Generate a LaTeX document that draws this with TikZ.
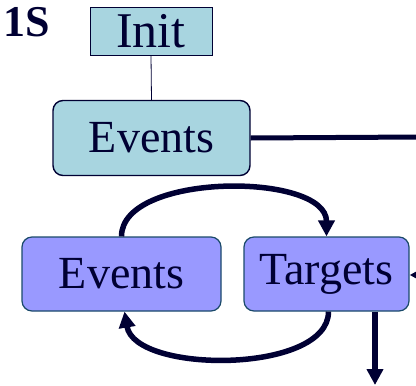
\documentclass[tikz,border=0pt]{standalone}
\usepackage{fontspec}
\setmainfont{Liberation Serif}
\usetikzlibrary{arrows.meta,positioning}
\definecolor{navy}{HTML}{000033}
\definecolor{lightbox}{HTML}{A8D5E0}
\definecolor{violetbox}{HTML}{9999FF}
\definecolor{edgeteal}{HTML}{1A4A6A}
\begin{document}
\begin{tikzpicture}[x=1pt,y=1pt,
    topbox/.style={draw=navy,fill=lightbox,text=navy,inner sep=0pt},
    loopbox/.style={draw=edgeteal,fill=violetbox,text=navy,line width=1.2pt,rounded corners=10pt,inner sep=0pt,minimum height=74pt},
    flow/.style={navy,line width=5.5pt,-{Triangle[length=16pt,width=16pt]}}]
                \useasboundingbox (0,0) rectangle (416,-386);
                \node[anchor=base west,text=navy,inner sep=0pt,font=\fontsize{44}{44}\selectfont\bfseries] (label) at (3,-36) {1S};
                \node[topbox,line width=0.8pt,minimum width=122pt,minimum height=48pt,font=\fontsize{50}{50}\selectfont] (init) at (151,-31) {Init};
                \node[topbox,line width=1.4pt,rounded corners=10pt,minimum width=197pt,minimum height=75pt,font=\fontsize{46}{46}\selectfont] (events) at (151.5,-138) {Events};
                \node[loopbox,minimum width=199pt,font=\fontsize{46}{46}\selectfont] (evloop) at (121.5,-274) {Events};
                \node[loopbox,minimum width=165pt,font=\fontsize{46}{46}\selectfont] (targets) at (326.5,-274) {Targets};
                \coordinate (right) at (420,-137);
                \coordinate (inright) at (430,-275);
                \coordinate (down) at (375,-385);
                \draw[navy,line width=0.8pt] (init.south) -- (events.north);
                \draw[navy,line width=5pt] (events.east) -- (right);
                \draw[flow] (inright) -- (targets.east|-inright);
                \draw[flow] (evloop.north) .. controls (121.5,-172) and (326.5,-172) .. (targets.north);
                \draw[flow] ([xshift=2pt]targets.south) .. controls (328.5,-374) and (135,-374) .. ([xshift=3pt]evloop.south);
                \draw[flow] (targets.south-|down) -- (down);
            \end{tikzpicture}
\end{document}
